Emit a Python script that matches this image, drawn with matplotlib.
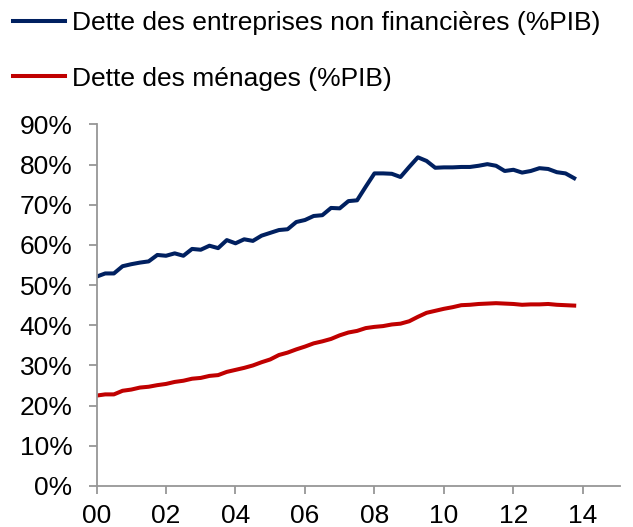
import numpy as np
import matplotlib
matplotlib.use('Agg')
import matplotlib.pyplot as plt
from matplotlib.ticker import FuncFormatter

plt.rcParams['font.family'] = ['Liberation Sans', 'DejaVu Sans']

# quarterly data, 2000Q1 - 2013Q4 (% of GDP)
entreprises = [52.1, 52.9, 52.9, 54.7, 55.2, 55.6, 55.9, 57.5, 57.3, 57.9,
               57.3, 59.0, 58.8, 59.8, 59.2, 61.2, 60.4, 61.4, 61.0, 62.3,
               63.0, 63.7, 63.9, 65.7, 66.2, 67.2, 67.4, 69.2, 69.1, 70.9,
               71.1, 74.5, 77.8, 77.8, 77.7, 76.9, 79.4, 81.8, 80.9, 79.2,
               79.3, 79.3, 79.4, 79.4, 79.7, 80.1, 79.7, 78.4, 78.7, 78.0,
               78.4, 79.1, 78.9, 78.1, 77.8, 76.6]
menages = [22.5, 22.8, 22.8, 23.7, 24.0, 24.5, 24.7, 25.1, 25.4, 25.9,
           26.2, 26.7, 26.9, 27.4, 27.6, 28.4, 28.9, 29.4, 30.0, 30.8,
           31.5, 32.6, 33.2, 34.0, 34.7, 35.5, 36.0, 36.6, 37.5, 38.2,
           38.6, 39.3, 39.6, 39.8, 40.2, 40.4, 41.0, 42.1, 43.1, 43.6,
           44.1, 44.5, 45.0, 45.1, 45.3, 45.4, 45.5, 45.4, 45.3, 45.1,
           45.2, 45.2, 45.3, 45.1, 45.0, 44.9]
labels = ['Dette des entreprises non financières (%PIB)', 'Dette des ménages (%PIB)']
year_ticks = [0, 2, 4, 6, 8, 10, 12, 14]
year_labels = ['00', '02', '04', '06', '08', '10', '12', '14']

t = np.arange(len(entreprises)) * 0.25

fig = plt.figure(figsize=(6.33, 5.27), dpi=100)
ax = fig.add_axes([0.1525, 0.0778, 0.8265, 0.6862])

ax.plot(t, np.array(entreprises) / 100, color='#002060', lw=2.9, label=labels[0])
ax.plot(t, np.array(menages) / 100, color='#C00000', lw=2.9, label=labels[1])

ax.set_xlim(0, 15.06)
ax.set_ylim(0, 0.9)
ax.set_yticks(np.arange(0, 0.91, 0.1))
ax.yaxis.set_major_formatter(FuncFormatter(lambda v, p: '%d%%' % round(v * 100)))
ax.set_xticks(year_ticks)
ax.set_xticklabels(year_labels)

for s in ['top', 'right']:
    ax.spines[s].set_visible(False)
for s in ['left', 'bottom']:
    ax.spines[s].set_color('#969696')
    ax.spines[s].set_linewidth(1.3)
ax.tick_params(axis='both', colors='#969696', labelcolor='black', labelsize=19,
               length=5.8, width=1.3)
ax.tick_params(axis='x', pad=7.5)
ax.tick_params(axis='y', pad=11.5)

fig.legend(loc='upper left', bbox_to_anchor=(0.02, 0.979), frameon=False,
           fontsize=19, handlelength=1.97, handletextpad=0.27, labelspacing=1.2,
           borderpad=0, borderaxespad=0)

plt.savefig('out.png', dpi=100)
